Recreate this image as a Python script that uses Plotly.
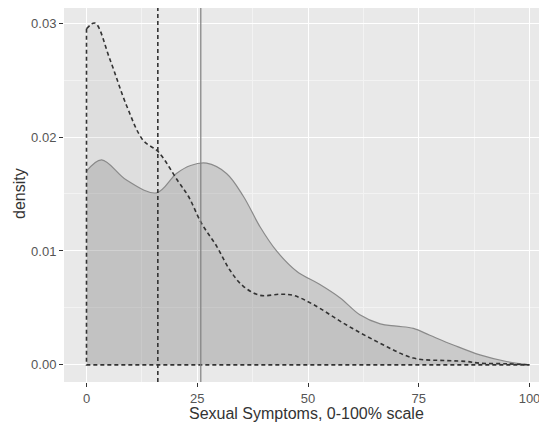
import plotly.graph_objects as go

# Density curve A (filled, solid outline)
solid_x = [0, 3.4, 9.1, 15.8, 20.3, 23.5, 27.1, 31.6, 35.4, 39.2, 42.9, 47.5, 52.5, 57.2, 61.7, 66.3, 70.0, 73.8, 77.5, 82.8, 88.8, 94.8, 100]
solid_y = [0.0170, 0.0180, 0.0162, 0.0151, 0.0168, 0.0175, 0.0177, 0.0168, 0.0148, 0.0121, 0.0100, 0.0082, 0.0071, 0.0059, 0.0044, 0.0036, 0.0034, 0.0032, 0.0026, 0.00175, 0.00088, 0.0003, 0.0]

# Density curve B (dashed outline)
dash_x = [0, 1.9, 5.3, 9.1, 12.8, 16.2, 20.7, 23.0, 26.0, 29.4, 32.4, 35.4, 39.2, 43.7, 46.7, 51.2, 58.7, 66.3, 73.8, 81.3, 85.8, 88.8, 94.8, 100]
dash_y = [0.0295, 0.0300, 0.0268, 0.0227, 0.0197, 0.0187, 0.0161, 0.0148, 0.0124, 0.0104, 0.0083, 0.0069, 0.0061, 0.0062, 0.0061, 0.0053, 0.0035, 0.0019, 0.0006, 0.00038, 0.0003, 0.00015, 0.0001, 0.0]

# Means (vertical reference lines)
mean_dash = 16.1
mean_solid = 25.8

x_ticks = [0, 25, 50, 75, 100]
y_ticks = [0.00, 0.01, 0.02, 0.03]
y_tick_labels = ["0.00", "0.01", "0.02", "0.03"]

DASH = dict(color="#333333", width=1.6, dash="4px,3px")

fig = go.Figure()

# fills
fig.add_trace(go.Scatter(
    x=dash_x, y=dash_y, mode="lines", fill="tozeroy", line_shape="spline",
    fillcolor="rgba(128,128,128,0.10)", line=dict(color="rgba(0,0,0,0)", width=0),
    hoverinfo="skip", showlegend=False,
))
fig.add_trace(go.Scatter(
    x=solid_x, y=solid_y, mode="lines", fill="tozeroy", line_shape="spline",
    fillcolor="rgba(128,128,128,0.29)", line=dict(color="#8a8a8a", width=1.2),
    hoverinfo="skip", showlegend=False,
))
# dashed outline: curve plus left edge and baseline
fig.add_trace(go.Scatter(
    x=dash_x, y=dash_y, mode="lines", line_shape="spline", line=DASH,
    hoverinfo="skip", showlegend=False,
))
fig.add_trace(go.Scatter(
    x=[dash_x[0], dash_x[0], dash_x[-1]], y=[dash_y[0], 0, 0], mode="lines", line=DASH,
    hoverinfo="skip", showlegend=False,
))

fig.add_shape(type="line", xref="x", yref="paper", x0=mean_dash, x1=mean_dash, y0=0, y1=1,
              line=DASH)
fig.add_shape(type="line", xref="x", yref="paper", x0=mean_solid, x1=mean_solid, y0=0, y1=1,
              line=dict(color="#808080", width=1.2))

# page body adds an 8px offset; figure is sized so the window shows 547x427
W, H = 539, 419
L, B = 56, 45
PW, PH = W - L, H - B

font = "Liberation Sans, Arial, sans-serif"
fig.update_layout(
    width=W, height=H,
    margin=dict(l=L, r=0, t=0, b=B),
    paper_bgcolor="white", plot_bgcolor="#e9e9e9",
    font=dict(family=font, color="#4d4d4d", size=13),
    xaxis=dict(
        range=[-5.08, 103.95], tickvals=x_ticks, ticktext=[str(v) for v in x_ticks],
        showgrid=True, gridcolor="white", gridwidth=1.2, zeroline=False,
        minor=dict(dtick=12.5, tick0=0, showgrid=True, gridcolor="#f3f3f3", gridwidth=0.6),
        ticks="outside", ticklen=4, tickcolor="#333333", tickwidth=1,
        tickfont=dict(size=13, color="#555555"), automargin=False,
        showline=False,
    ),
    yaxis=dict(
        range=[-0.0015, 0.03132], tickvals=y_ticks, ticktext=y_tick_labels,
        showgrid=True, gridcolor="white", gridwidth=1.2, zeroline=False,
        minor=dict(dtick=0.005, tick0=0, showgrid=True, gridcolor="#f3f3f3", gridwidth=0.6),
        ticks="outside", ticklen=4, tickcolor="#333333", tickwidth=1,
        tickfont=dict(size=13, color="#555555"), automargin=False,
        showline=False,
    ),
    annotations=[
        dict(text="Sexual Symptoms, 0-100% scale", xref="paper", yref="paper",
             x=(298 - L) / PW, y=-(406 - PH) / PH, xanchor="center", yanchor="middle",
             showarrow=False, font=dict(size=16, color="#333333")),
        dict(text="density", xref="paper", yref="paper", textangle=-90,
             x=-(L - 11) / PW, y=(PH - 186) / PH, xanchor="center", yanchor="middle",
             showarrow=False, font=dict(size=16, color="#333333")),
    ],
)

fig.write_html("out.html")
